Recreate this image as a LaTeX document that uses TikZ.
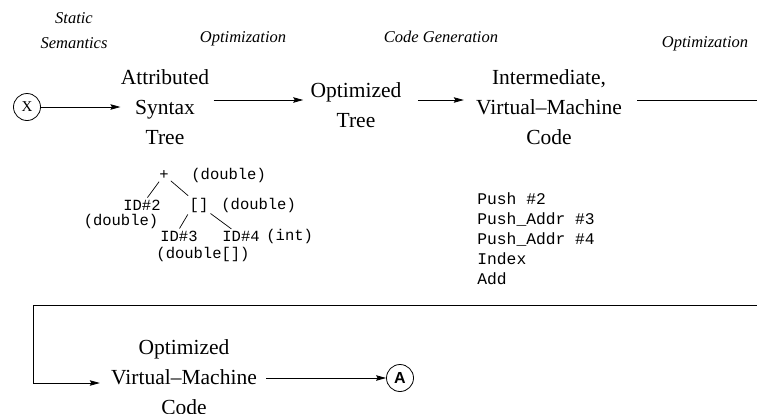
\documentclass[tikz,border=0pt]{standalone}
\usepackage{fontspec}
\setmainfont{Liberation Serif}
\setmonofont{Liberation Mono}
\newfontfamily\circfont{Liberation Sans}
\usetikzlibrary{positioning}
\usetikzlibrary{arrows.meta}

\begin{document}
\begin{tikzpicture}[x=1pt,y=-1pt,line width=0.8pt,
 stage/.style={align=center,inner sep=0pt,font=\fontsize{21.5}{30}\selectfont},
 phase/.style={align=center,inner sep=0pt,font=\fontsize{16.5}{25}\selectfont\itshape},
 code/.style={align=left,inner sep=0pt,font=\ttfamily\fontsize{16.3}{20}\selectfont},
 tnode/.style={inner sep=1pt,font=\ttfamily\fontsize{15.5}{18}\selectfont},
 terminal/.style={circle,draw,inner sep=0pt,minimum size=27pt},
 arrow/.style={-{Stealth[length=10pt,width=5.5pt,inset=1.5pt]}},
 branch/.style={line width=0.7pt,shorten <=1pt,shorten >=1pt}]
 \useasboundingbox (0,0) rectangle (757,413);
 \node[phase] (static) at (74,31) {Static\\Semantics};
 \node[phase] (opt1) at (243,39) {Optimization};
 \node[phase] (gen) at (441,37) {Code Generation};
 \node[phase] (opt2) at (705,44) {Optimization};
 \node[terminal,font=\fontsize{15}{15}\selectfont] (x) at (27,107) {X};
 \node[stage] (ast) at (165,107) {Attributed\\Syntax\\Tree};
 \node[stage] (opt) at (356,105) {Optimized\\Tree};
 \node[stage] (int) at (549,107) {Intermediate,\\Virtual--Machine\\Code};
 \node[stage] (ovm) at (184,377) {Optimized\\Virtual--Machine\\Code};
 \node[terminal,font=\circfont\bfseries\fontsize{16}{16}\selectfont] (A) at (400,378) {A};
 \coordinate (cut1) at (757,100);
 \coordinate (cut2) at (757,305);
 \coordinate (bend) at (33,305);
 \draw[arrow,shorten >=7pt] (x) -- ([xshift=7pt]ast.west);
 \draw[arrow,shorten <=4pt,shorten >=7pt] ([yshift=7pt]ast.east) -- ([yshift=5pt]opt.west);
 \draw[arrow,shorten <=16pt,shorten >=12pt] ([yshift=5pt]opt.east) -- ([yshift=7pt]int.west);
 \draw[shorten <=15pt] ([yshift=7pt]int.east) -- (cut1);
 \draw[arrow,shorten >=11pt] (cut2) -- (bend) |- ([yshift=-6pt]ovm.west);
 \draw[arrow,shorten <=9pt] ([yshift=-1pt]ovm.east) -- (A);
 \node[tnode] (plus) at (164,175) {+};
 \node[tnode,anchor=west] (tplus) at (190,175) {(double)};
 \node[tnode] (id2) at (142,205) {ID\#2};
 \node[tnode] (tid2) at (121,221) {(double)};
 \node[tnode] (idx) at (199,205) {[]};
 \node[tnode,anchor=west] (tidx) at (220,205) {(double)};
 \node[tnode] (id3) at (179,236) {ID\#3};
 \node[tnode] (tid3) at (203,254) {(double[])};
 \node[tnode] (id4) at (241,236) {ID\#4};
 \node[tnode,anchor=west] (tid4) at (265,236) {(int)};
 \draw[branch] (plus) -- (id2);
 \draw[branch] (plus) -- (idx);
 \draw[branch] (idx.south west) -- (id3.north);
 \draw[branch] (idx) -- (id4);
 \node[code,anchor=north west] (vmcode) at (477,192) {Push \#2\\Push\_Addr \#3\\Push\_Addr \#4\\Index\\Add};
\end{tikzpicture}
\end{document}
